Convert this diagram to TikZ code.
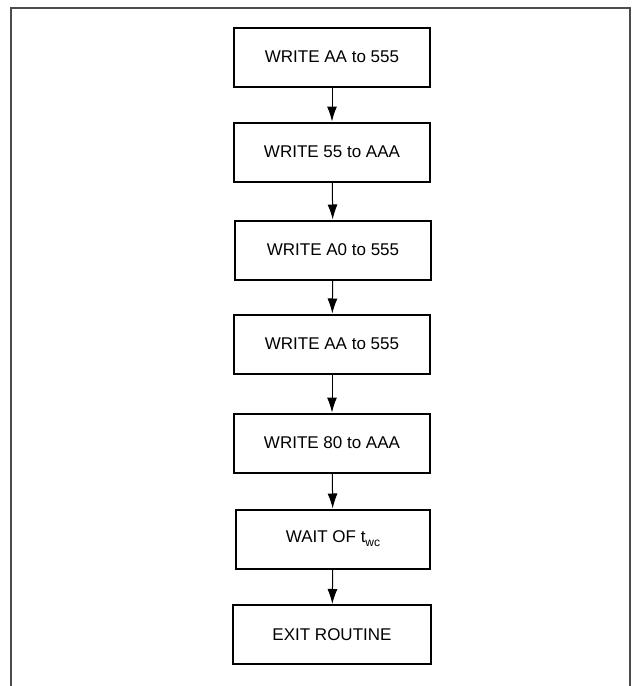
\documentclass[tikz,border=0pt]{standalone}
\usepackage{fontspec}
\setmainfont{Liberation Sans}
\usetikzlibrary{arrows.meta}
\begin{document}
\begin{tikzpicture}[x=1pt,y=-1pt,
  stepbox/.style={draw=black,line width=2pt,minimum width=196pt,minimum height=59pt,inner sep=0pt,font=\fontsize{17}{20}\selectfont},
  flow/.style={line width=1pt,-{Latex[length=15pt,width=10pt]}},
  frame/.style={draw=black!70,line width=1.2pt}]
\useasboundingbox (0,0) rectangle (635,686);
\draw[frame] (11,686) -- (11,8) -- (630,8) -- (630,686);
\node[stepbox] (b1) at (332,57) {WRITE AA to 555};
\node[stepbox] (b2) at (332,152) {WRITE 55 to AAA};
\node[stepbox] (b3) at (333,250) {WRITE A0 to 555};
\node[stepbox] (b4) at (332,344) {WRITE AA to 555};
\node[stepbox] (b5) at (332,443) {WRITE 80 to AAA};
\node[stepbox,minimum width=194pt] (b6) at (333,539) {WAIT OF t\raisebox{-4pt}{\fontsize{12}{12}\selectfont wc}};
\node[stepbox,minimum width=198pt] (b7) at (332,634.5) {EXIT ROUTINE};
\foreach \a/\b in {b1/b2,b2/b3,b3/b4,b4/b5,b5/b6,b6/b7}
  \draw[flow] (\a) -- (\b);
\end{tikzpicture}
\end{document}
